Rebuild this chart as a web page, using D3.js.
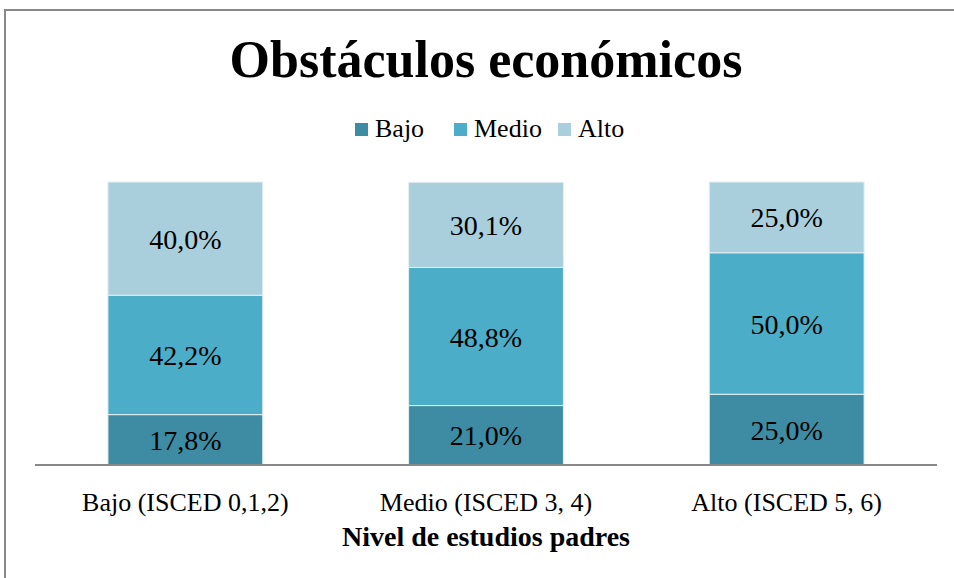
<!DOCTYPE html>
<html>
<head>
<meta charset="utf-8">
<script src="https://cdn.jsdelivr.net/npm/d3@7"></script>
<style>
  body { margin: 0; background: #fff; }
  text { font-family: "Liberation Serif", "DejaVu Serif", serif; fill: #000; }
</style>
</head>
<body>
<div id="chart"></div>
<script>
var categories = ["Bajo (ISCED 0,1,2)", "Medio (ISCED 3, 4)", "Alto (ISCED 5, 6)"],
    seriesNames = ["Bajo", "Medio", "Alto"],
    bajo  = [17.8, 21.0, 25.0],
    medio = [42.2, 48.8, 50.0],
    alto  = [40.0, 30.1, 25.0],
    colors = ["#3d8ca3", "#4badc7", "#a9cfdc"];

var width = 954, height = 578,
    margin = {top: 182, right: 17, bottom: 113, left: 35},
    svg = d3.select("#chart").append("svg")
        .attr("width", width)
        .attr("height", height);

// table for the stack
var rows = categories.map(function (c, i) {
    return {cat: c, Bajo: bajo[i], Medio: medio[i], Alto: alto[i]};
});

var x = d3.scaleBand()
    .domain(categories)
    .range([margin.left, width - margin.right])
    .paddingInner(0.485)
    .paddingOuter(0.2425);

var y = d3.scaleLinear()
    .domain([0, 100])
    .range([height - margin.bottom, margin.top]);

var color = d3.scaleOrdinal().domain(seriesNames).range(colors);

var stacked = d3.stack().keys(seriesNames)(rows);

// chart frame
svg.append("rect")
    .attr("x", 5).attr("y", 10)
    .attr("width", 980).attr("height", 600)
    .attr("fill", "none")
    .attr("stroke", "#888")
    .attr("stroke-width", 2);

svg.append("text")
    .attr("x", 486).attr("y", 77)
    .attr("text-anchor", "middle")
    .style("font-size", "52px")
    .style("font-weight", "bold")
    .text("Obstáculos económicos");

// bars
var layer = svg.selectAll("g.layer")
    .data(stacked)
    .enter().append("g")
    .attr("class", "layer")
    .attr("fill", function (d) { return color(d.key); });

layer.selectAll("rect")
    .data(function (d) { return d; })
    .enter().append("rect")
    .attr("x", function (d) { return x(d.data.cat); })
    .attr("width", x.bandwidth())
    .attr("y", function (d) { return y(d[1]); })
    .attr("height", function (d) { return y(d[0]) - y(d[1]); })
    .attr("stroke", "#e4eff3")
    .attr("stroke-width", 1);

layer.selectAll("text")
    .data(function (d) { return d; })
    .enter().append("text")
    .attr("x", function (d) { return x(d.data.cat) + x.bandwidth() / 2; })
    .attr("y", function (d) { return (y(d[0]) + y(d[1])) / 2 + 10; })
    .attr("text-anchor", "middle")
    .style("font-size", "28px")
    .text(function (d) { return d3.format(".1f")(d[1] - d[0]).replace(".", ",") + "%"; });

// x axis
var xAxis = svg.append("g")
    .attr("transform", "translate(0," + y(0) + ")")
    .call(d3.axisBottom(x).tickSize(0).tickPadding(28));

xAxis.select(".domain")
    .attr("stroke", "#888")
    .attr("stroke-width", 2)
    .attr("d", "M" + margin.left + ",0H" + (width - margin.right));

xAxis.selectAll(".tick text")
    .style("font-family", "Liberation Serif, serif")
    .style("font-size", "26px")
    .attr("dy", "0.71em");

svg.append("text")
    .attr("x", 486).attr("y", 546)
    .attr("text-anchor", "middle")
    .style("font-size", "28px")
    .style("font-weight", "bold")
    .text("Nivel de estudios padres");

// legend
var legend = svg.append("g").attr("transform", "translate(355,0)"),
    lx = [0, 99, 203];

seriesNames.forEach(function (s, i) {
    var g = legend.append("g").attr("transform", "translate(" + lx[i] + ",0)");
    g.append("rect")
        .attr("x", 0).attr("y", 123)
        .attr("width", 13).attr("height", 13)
        .attr("fill", color(s));
    g.append("text")
        .attr("x", 20).attr("y", 137)
        .style("font-size", "26px")
        .text(s);
});
</script>
</body>
</html>
